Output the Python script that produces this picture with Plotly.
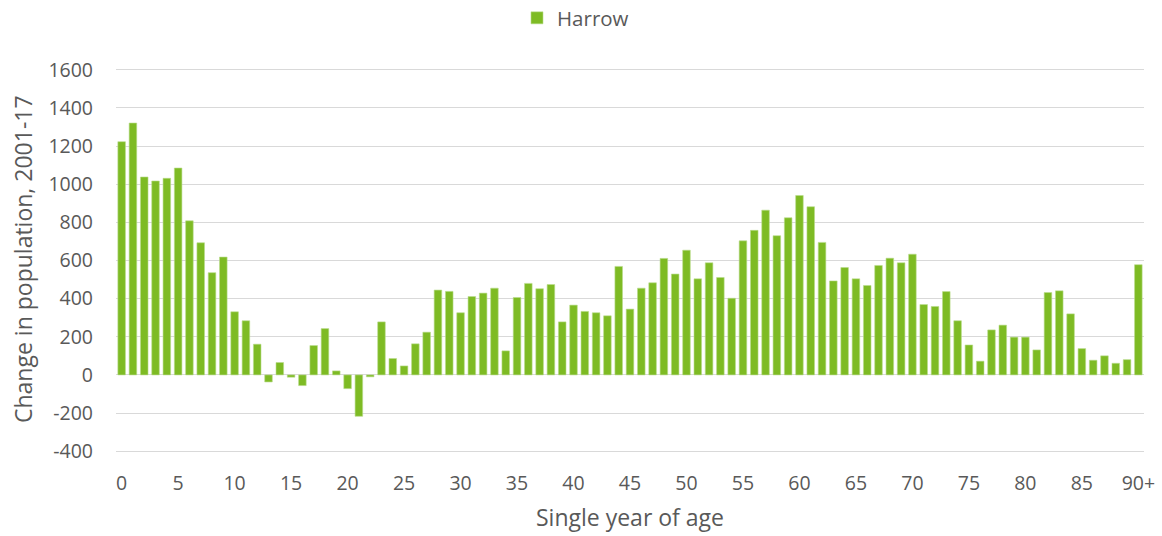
import plotly.graph_objects as go

ages = [str(a) for a in range(90)] + ["90+"]
change = [1223, 1321, 1038, 1017, 1031, 1085, 808, 693, 536, 618,
          331, 284, 161, -37, 65, -12, -56, 154, 243, 21,
          -72, -217, -10, 278, 86, 47, 163, 224, 445, 438,
          326, 411, 429, 455, 126, 406, 480, 452, 474, 278,
          366, 333, 326, 310, 569, 345, 455, 483, 611, 529,
          654, 504, 588, 511, 402, 703, 758, 864, 730, 824,
          941, 882, 695, 493, 563, 504, 469, 574, 612, 588,
          633, 369, 359, 437, 284, 157, 72, 236, 261, 198,
          198, 131, 432, 441, 320, 138, 77, 100, 61, 80,
          578]
tick_labels = [str(a) for a in range(0, 90, 5)] + ["90+"]
y_ticks = list(range(-400, 1601, 200))
y_tick_text = [str(v) for v in y_ticks]
x_title = "Single year of age"
y_title = "Change in population, 2001-17"

FONT = "Open Sans"
GREY = "#595959"
W, H = 1162, 536
L, R, T, B = 116, 18, 66, 81
PW, PH = W - L - R, H - T - B

fig = go.Figure(go.Bar(
    x=ages, y=change, name="Harrow",
    marker=dict(color="#7EBB24", line=dict(color="#B9DC8C", width=0.6)),
))

fig.update_layout(
    width=W, height=H,
    margin=dict(l=L, r=R, t=T, b=B, autoexpand=False),
    paper_bgcolor="white", plot_bgcolor="white",
    font=dict(family=FONT, size=19.5, color=GREY),
    bargap=0.33,
    showlegend=True,
    legend=dict(orientation="h",
                x=(517 - L) / PW, xanchor="left",
                y=(H - B - 18) / PH, yanchor="middle",
                entrywidth=110, bgcolor="rgba(0,0,0,0)",
                font=dict(size=20.5, color=GREY)),
    xaxis=dict(
        type="category", categoryorder="array", categoryarray=ages,
        tickvals=tick_labels, ticktext=tick_labels,
        showgrid=False, zeroline=False, showline=False, automargin=False,
        ticks="", ticklabelstandoff=14,
        title=dict(text=x_title, standoff=15, font=dict(size=23, color=GREY)),
        range=[-0.5, 90.5],
    ),
    yaxis=dict(
        range=[-420, 1620], tickvals=y_ticks, ticktext=y_tick_text,
        showgrid=True, gridcolor="#D9D9D9", gridwidth=1.2,
        zeroline=True, zerolinecolor="#D9D9D9", zerolinewidth=1.2,
        showline=False, ticks="", ticklabelstandoff=22, automargin=False,
    ),
    annotations=[dict(
        text=y_title, textangle=-90, showarrow=False,
        xref="paper", yref="paper", x=(23 - L) / PW, y=(H - B - 259) / PH,
        xanchor="center", yanchor="middle",
        font=dict(size=23, color=GREY),
    )],
)

fig.write_html("out.html", config={"displayModeBar": False},
               post_script="document.body.style.margin='0';")
